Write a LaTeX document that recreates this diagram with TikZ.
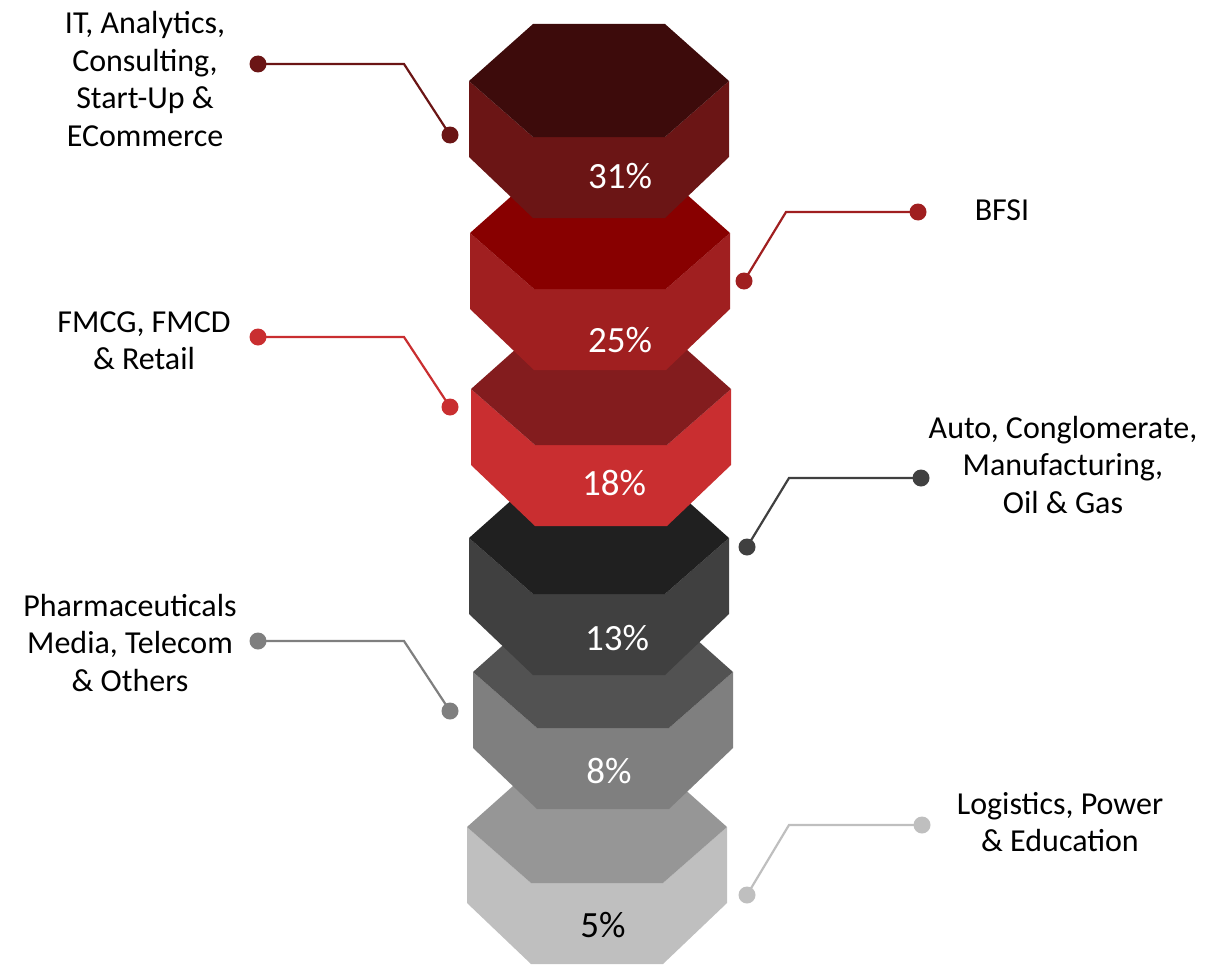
\documentclass[tikz,border=0pt]{standalone}
\usepackage{fontspec}
\setmainfont{Carlito}
\definecolor{topA}{HTML}{3D0B0B}\definecolor{frA}{HTML}{6B1515}
\definecolor{topB}{HTML}{880000}\definecolor{frB}{HTML}{A01F20}
\definecolor{topC}{HTML}{831C1E}\definecolor{frC}{HTML}{C92E30}
\definecolor{topD}{HTML}{202020}\definecolor{frD}{HTML}{404040}
\definecolor{topE}{HTML}{525252}\definecolor{frE}{HTML}{7F7F7F}
\definecolor{topF}{HTML}{969696}\definecolor{frF}{HTML}{BFBFBF}
\newcommand\hexblock[4]{%
\fill[#4] (#1,#2) -- (#1,{#2+76}) -- ({#1+64},{#2+137}) -- ({#1+196},{#2+137}) -- ({#1+260},{#2+76}) -- ({#1+260},#2) -- ({#1+196},{#2+56}) -- ({#1+64},{#2+56}) -- cycle;
\fill[#3] (#1,#2) -- ({#1+64},{#2-57}) -- ({#1+196},{#2-57}) -- ({#1+260},#2) -- ({#1+196},{#2+56}) -- ({#1+64},{#2+56}) -- cycle;}
\newcommand\lines[1]{\begin{tabular}[t]{@{}c@{}}#1\end{tabular}}
\begin{document}
\begin{tikzpicture}[x=1pt,y=-1pt,
  lbl/.style={font=\fontsize{32}{37.5}\selectfont, inner sep=0pt, anchor=base, text=black},
  pct/.style={font=\fontsize{37}{40}\selectfont, inner sep=0pt, anchor=base},
  dot/.style={circle, fill=#1, inner sep=0pt, minimum size=17pt},
  conn/.style={draw=#1, line width=2.2pt}]
\useasboundingbox (0,0) rectangle (1223,966);
% blocks, bottom to top
\hexblock{467}{827}{topF}{frF}
\hexblock{473}{672}{topE}{frE}
\hexblock{469}{538}{topD}{frD}
\hexblock{471}{389}{topC}{frC}
\hexblock{470}{233}{topB}{frB}
\hexblock{469}{81}{topA}{frA}
% percentages
\node[pct, text=white] (p1) at (620,188) {31\%};
\node[pct, text=white] (p2) at (620,352) {25\%};
\node[pct, text=white] (p3) at (614,495) {18\%};
\node[pct, text=white] (p4) at (617,650) {13\%};
\node[pct, text=white] (p5) at (609,783) {8\%};
\node[pct, text=black] (p6) at (603,937) {5\%};
% connectors
\node[dot=frA] (a1) at (258,64) {};
\coordinate (k1) at (404,64);
\node[dot=frA] (b1) at (450,135) {};
\draw[conn=frA] (a1.center) -- (k1) -- (b1.center);
\node[dot=frB] (a2) at (918,212) {};
\coordinate (k2) at (786,212);
\node[dot=frB] (b2) at (744,281) {};
\draw[conn=frB] (a2.center) -- (k2) -- (b2.center);
\node[dot=frC] (a3) at (258,337) {};
\coordinate (k3) at (404,337);
\node[dot=frC] (b3) at (450,407) {};
\draw[conn=frC] (a3.center) -- (k3) -- (b3.center);
\node[dot=frD] (a4) at (921,478) {};
\coordinate (k4) at (789,478);
\node[dot=frD] (b4) at (747,547) {};
\draw[conn=frD] (a4.center) -- (k4) -- (b4.center);
\node[dot=frE] (a5) at (258,641) {};
\coordinate (k5) at (404,641);
\node[dot=frE] (b5) at (450,711) {};
\draw[conn=frE] (a5.center) -- (k5) -- (b5.center);
\node[dot=frF] (a6) at (922,825) {};
\coordinate (k6) at (789,825);
\node[dot=frF] (b6) at (747,895) {};
\draw[conn=frF] (a6.center) -- (k6) -- (b6.center);
% labels
\node[lbl] (l1) at (145,34) {\lines{IT, Analytics,\\Consulting,\\Start-Up \&\\ECommerce}};
\node[lbl] (l2) at (1002,220) {\lines{BFSI}};
\node[lbl] (l3) at (144,332) {\lines{FMCG, FMCD\\\& Retail}};
\node[lbl] (l4) at (1063,438) {\lines{Auto, Conglomerate,\\Manufacturing,\\Oil \& Gas}};
\node[lbl] (l5) at (130,616) {\lines{Pharmaceuticals\\Media, Telecom\\\& Others}};
\node[lbl] (l6) at (1060,814) {\lines{Logistics, Power\\\& Education}};
\end{tikzpicture}
\end{document}
